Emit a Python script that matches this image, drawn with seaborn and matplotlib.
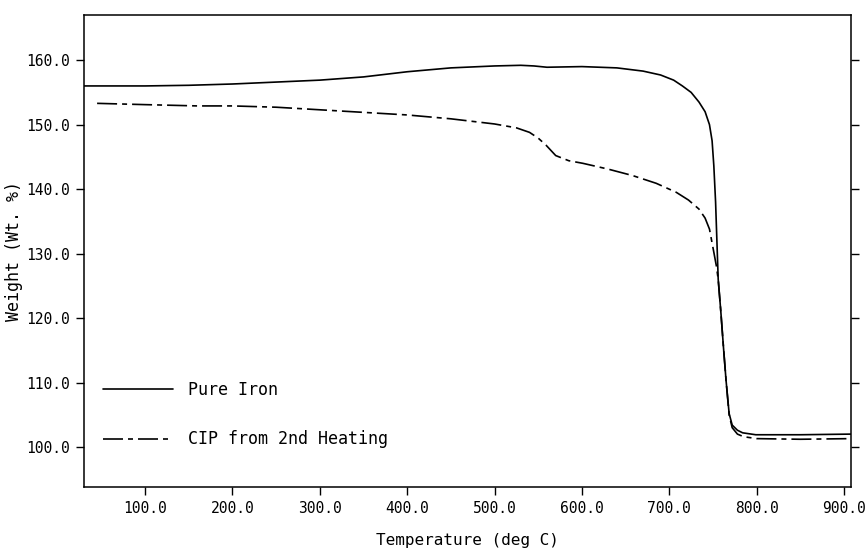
import matplotlib
matplotlib.use("Agg")
import matplotlib.pyplot as plt
import seaborn as sns

# TGA curves
iron_temp = [30, 100, 150, 200, 250, 300, 350, 400, 450, 500, 530, 545, 560, 600, 640,
             670, 690, 705, 715, 725, 734, 741, 746, 749, 751, 753, 754.5, 756, 759, 762,
             765, 768.5, 772, 778, 784, 799, 850, 908]
iron_wt = [156.0, 156.0, 156.1, 156.3, 156.6, 156.9, 157.4, 158.2, 158.8, 159.1, 159.2,
           159.1, 158.9, 159.0, 158.8, 158.3, 157.7, 156.9, 156.0, 155.0, 153.5, 152.0,
           150.0, 147.5, 143.6, 138.0, 132.0, 126.0, 121.0, 115.5, 110.3, 105.2, 103.4,
           102.6, 102.2, 101.9, 101.9, 102.0]

cip_temp = [45, 100, 160, 200, 250, 275, 300, 350, 400, 450, 500, 525, 540, 550, 559,
            570, 585, 601, 630, 658, 685, 708, 722, 734, 741, 746, 751, 754, 756, 759,
            762, 765, 768.5, 772, 778, 785, 800, 850, 908]
cip_wt = [153.3, 153.1, 152.9, 152.9, 152.7, 152.5, 152.3, 151.9, 151.5, 150.9, 150.1,
          149.5, 148.8, 147.9, 146.8, 145.2, 144.4, 144.0, 143.1, 142.1, 140.9, 139.5,
          138.3, 136.9, 135.5, 133.8, 130.2, 128.0, 126.0, 121.0, 115.5, 110.3, 105.0,
          103.0, 102.0, 101.6, 101.3, 101.2, 101.3]

x_ticks = [100, 200, 300, 400, 500, 600, 700, 800, 900]
y_ticks = [100, 110, 120, 130, 140, 150, 160]

sns.set_theme(style="ticks")
plt.rcParams['font.family'] = ['DejaVu Sans Mono', 'DejaVu Sans']
plt.rcParams['text.color'] = 'black'

fig = plt.figure(figsize=(8.65, 5.52), dpi=100)
ax = fig.add_axes([0.0971, 0.1178, 0.8867, 0.855])

sns.lineplot(x=iron_temp, y=iron_wt, ax=ax, color='black', linewidth=1.2,
             label='Pure Iron', sort=False)
sns.lineplot(x=cip_temp, y=cip_wt, ax=ax, color='black', linewidth=1.2,
             linestyle=(0, (12, 3, 3, 3)), label='CIP from 2nd Heating', sort=False)

ax.set_xlim(30, 908)
ax.set_ylim(93.8, 167)
ax.set_xticks(x_ticks)
ax.set_yticks(y_ticks)
ax.set_xticklabels([f"{v:.1f}" for v in x_ticks])
ax.set_yticklabels([f"{v:.1f}" for v in y_ticks])
ax.tick_params(axis='both', direction='out', length=6, width=1, colors='black',
               labelsize=10.5, pad=4)
ax.tick_params(axis='y', right=True, labelright=False)
for s in ax.spines.values():
    s.set_visible(True)
    s.set_color('black')
    s.set_linewidth(1.1)

ax.set_xlabel('Temperature (deg C)', fontsize=11.5, color='black')
ax.set_ylabel('Weight (Wt. %)', fontsize=12, color='black')
ax.xaxis.set_label_coords(0.5, -0.097)
ax.yaxis.set_label_coords(-0.079, 0.5)

ax.legend(loc='lower left', bbox_to_anchor=(0.005, 0.05), frameon=False,
          handlelength=4.2, labelspacing=1.9, handletextpad=0.9, fontsize=12)

fig.savefig('out.png', dpi=100)
